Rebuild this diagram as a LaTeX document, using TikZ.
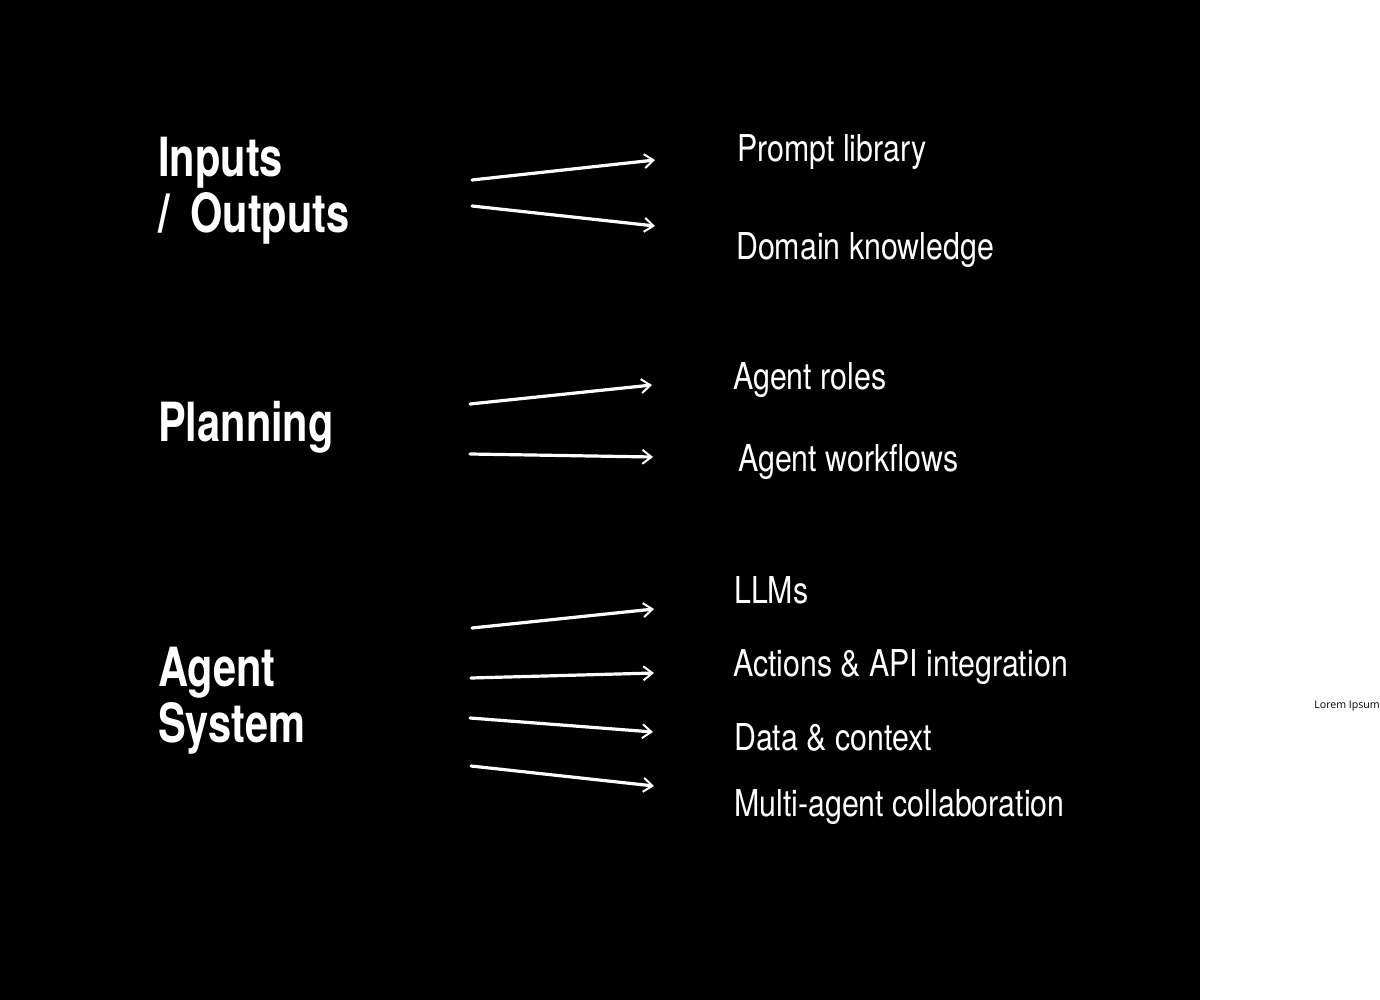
\documentclass[tikz,border=0pt]{standalone}
\usepackage{fontspec}
\setmainfont{TeX Gyre Heros}[FakeStretch=0.82]
\newfontfamily\headfont{TeX Gyre Heros}[FakeStretch=0.77]
\newfontfamily\loremfont{Open Sans}
\usepackage{tikz}
\usetikzlibrary{arrows.meta, positioning}

\tikzset{
	heading/.style={text=white, font=\headfont\fontsize{54}{56}\selectfont\bfseries, inner sep=0pt, anchor=base west, align=left},
	item/.style={text=white, font=\fontsize{37}{40}\selectfont, inner sep=0pt, anchor=base west},
	pfeil/.style={white, line width=3.2pt, line cap=round, -{Straight Barb[length=9pt, width=14pt, line width=2pt]}}
}

\begin{document}
\begin{tikzpicture}[x=1pt, y=-1pt]
			% Hintergrund
			\useasboundingbox (0,0) rectangle (1380,1000);
			\fill[white] (0,0) rectangle (1380,1000);
			\fill[black] (0,0) rectangle (1200,1000);
			
			% Gruppen
			\node[heading] (io) at (158,233) {Inputs\\/\, Outputs};
			\node[heading] (plan) at (158,441) {Planning};
			\node[heading] (agsys) at (158,742) {Agent\\System};
			
			% Eintraege
			\node[item] (prompt) at (737,162) {Prompt library};
			\node[item] (domain) at (736,259) {Domain knowledge};
			\node[item] (roles) at (733,389) {Agent roles};
			\node[item] (workflows) at (738,471) {Agent workflows};
			\node[item] (llms) at (734,603) {LLMs};
			\node[item] (actions) at (733,676) {Actions \& API integration};
			\node[item] (data) at (734,750) {Data \& context};
			\node[item] (multi) at (734,816) {Multi-agent collaboration};
			
			% Pfeile
			\foreach \n/\sx/\sy/\ex/\ey in {1/472/180/655/160, 2/472/206/655/226, 3/470/404/652/385, 4/470/454/653/457,
				5/472/628/654/609, 6/471/678/654/673, 7/470/718/653/732, 8/471/766/654/786} {
				\coordinate (s\n) at (\sx,\sy);
				\coordinate (e\n) at (\ex,\ey);
				\draw[pfeil] (s\n) -- (e\n);
			}
			
			\node[font=\loremfont\fontsize{10.6}{12}\selectfont, inner sep=0pt, anchor=east] (lorem) at (1380,706) {Lorem Ipsum};
		\end{tikzpicture}
\end{document}
